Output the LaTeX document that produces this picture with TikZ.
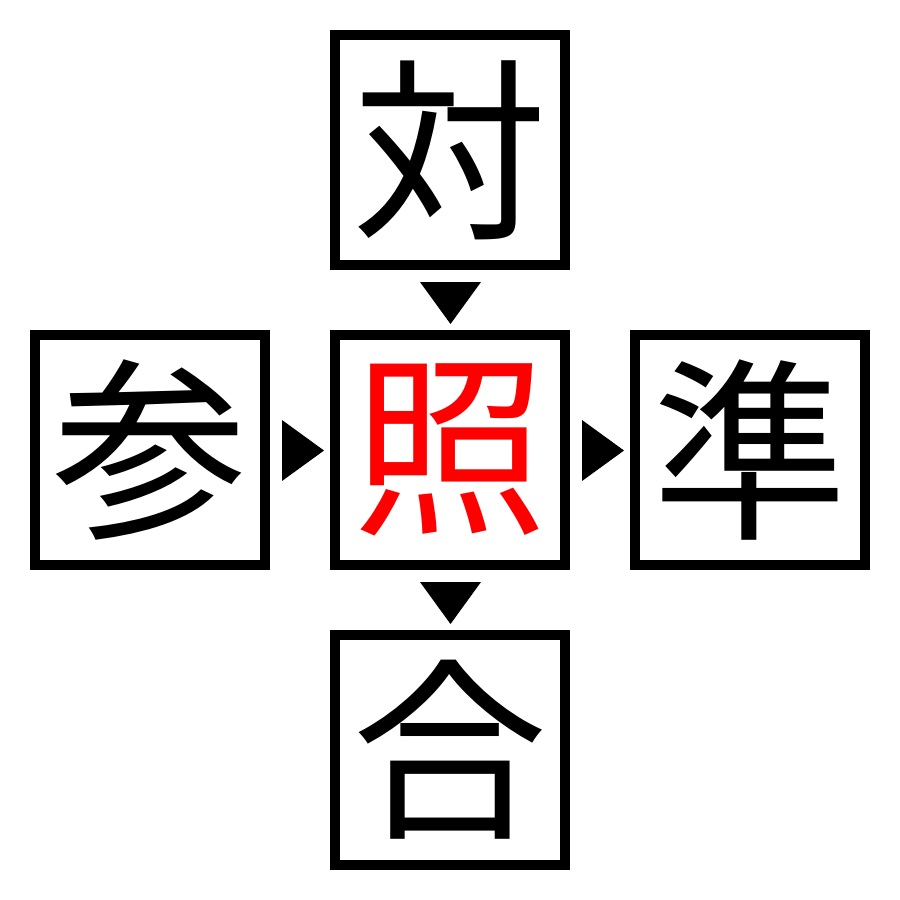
\documentclass[tikz,border=0pt]{standalone}
\usepackage{fontspec}
\newfontfamily\cjk{Noto Sans CJK JP}
\begin{document}
\begin{tikzpicture}[x=1pt,y=-1pt,
  kbox/.style={draw=black,line width=10pt,minimum width=230pt,minimum height=230pt,inner sep=0pt,outer sep=0pt,
    font=\cjk\fontsize{195}{195}\selectfont,text=black},
  tri/.style={fill=black,draw=none}]
\useasboundingbox[fill=white] (0,0) rectangle (900,900);
\node[kbox] (top) at (450,150) {対};
\node[kbox] (left) at (150,450) {参};
\node[kbox,text=red] (mid) at (450,450) {照};
\node[kbox] (right) at (750,450) {準};
\node[kbox] (bot) at (450,750) {合};
\fill[tri] (420,282) -- (481,282) -- (450.5,324) -- cycle;
\fill[tri] (420,582) -- (481,582) -- (450.5,624) -- cycle;
\fill[tri] (282,420) -- (282,481) -- (324,450.5) -- cycle;
\fill[tri] (582,420) -- (582,481) -- (624,450.5) -- cycle;
\end{tikzpicture}
\end{document}
